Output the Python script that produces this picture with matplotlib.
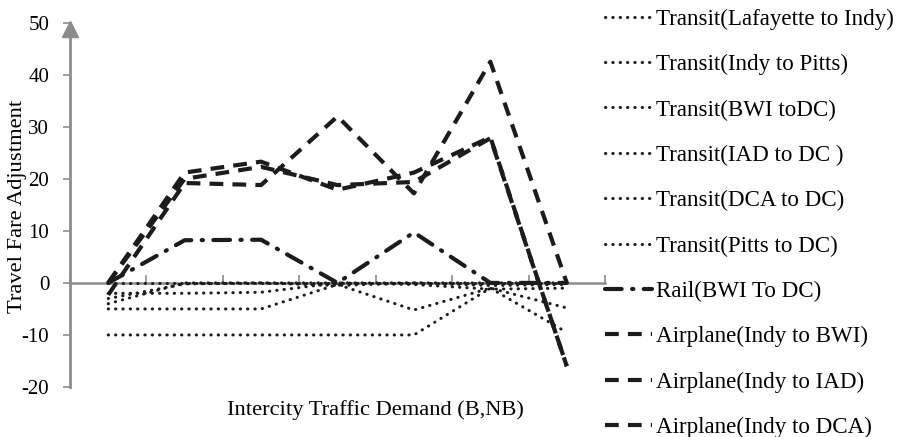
import numpy as np
import matplotlib.pyplot as plt
from matplotlib import transforms

plt.rcParams['font.family'] = ['Liberation Serif', 'DejaVu Serif']
plt.rcParams['axes.unicode_minus'] = False

# Demand scenarios along the x axis (7 cases, no tick labels)
scenarios = np.arange(7)

labels = [
    "Transit(Lafayette to Indy)",
    "Transit(Indy to Pitts)",
    "Transit(BWI toDC)",
    "Transit(IAD to DC )",
    "Transit(DCA to DC)",
    "Transit(Pitts to DC)",
    "Rail(BWI To DC)",
    "Airplane(Indy to BWI)",
    "Airplane(Indy to IAD)",
    "Airplane(Indy to DCA)",
]

transit_laf_indy = [-10, -10, -10, -10, -10, -1, -9.5]
transit_indy_pitts = [-5, -5, -5, -0.3, -5.2, -1, -4.8]
transit_bwi_dc = [-2, -2, -1.8, 0, -0.3, -1.2, -1]
transit_iad_dc = [-4, 0, 0, 0, 0, 0, 0]
transit_dca_dc = [0, 0, 0, 0, 0, 0, 0]
transit_pitts_dc = [-3, -0.2, 0, -0.5, 0, -0.5, -0.3]
rail_bwi_dc = [0, 8.2, 8.3, 0, 9.7, 0, 0]
air_indy_bwi = [0, 21.2, 23.3, 17.9, 21.2, 28, -16]
air_indy_iad = [0, 20.0, 22.3, 18.8, 19.4, 27.8, -16]
air_indy_dca = [-2.3, 19.2, 18.8, 32, 17.2, 42.5, 0]

series = [transit_laf_indy, transit_indy_pitts, transit_bwi_dc, transit_iad_dc,
          transit_dca_dc, transit_pitts_dc, rail_bwi_dc,
          air_indy_bwi, air_indy_iad, air_indy_dca]

ink = '#1c1c1c'
grey = '#8c8c8c'

fig = plt.figure(figsize=(9.05, 4.37), dpi=100)
ax = fig.add_axes([70 / 905, 1 - 387 / 437, 535 / 905, (387 - 22.7) / 437])

handles = []
for i, (vals, lab) in enumerate(zip(series, labels)):
    if i < 6:
        ln, = ax.plot(scenarios, vals, color=ink, lw=2.2, linestyle=(0, (0.1, 2.3)),
                      dash_capstyle='round', label=lab, zorder=3)
    elif i == 6:
        ln, = ax.plot(scenarios, vals, color=ink, lw=3, linestyle=(0, (4, 2.5, 0.3, 2.5)),
                      dash_capstyle='round', label=lab, zorder=4)
    else:
        ln, = ax.plot(scenarios, vals, color=ink, lw=3, linestyle=(0, (3.3, 2.2)),
                      label=lab, zorder=5)
    handles.append(ln)

ax.set_xlim(-0.5, 6.5)
ax.set_ylim(-20, 50)
ax.set_yticks(np.arange(-20, 51, 10))
ax.set_xticks(np.arange(-0.5, 6.6, 1))
ax.set_xticklabels([])

for side in ['top', 'right']:
    ax.spines[side].set_visible(False)
ax.spines['bottom'].set_position(('data', 0))
ax.spines['bottom'].set_color(grey)
ax.spines['bottom'].set_linewidth(1.8)
ax.spines['left'].set_color(grey)
ax.spines['left'].set_linewidth(2)
ax.tick_params(axis='y', direction='out', length=5, width=1.2, color=grey,
               labelsize=15, pad=10)
ax.tick_params(axis='x', direction='in', length=6, width=1.2, color=grey)

# arrow head on top of the y axis
arrow_tr = transforms.offset_copy(ax.transAxes, fig=fig, x=0, y=-6, units='dots')
ax.plot(0, 1, marker='^', markersize=11, color=grey, transform=arrow_tr,
        clip_on=False, zorder=6)

fig.text(18 / 905, 1 - 206 / 437, "Travel Fare Adjustment", fontsize=16.2,
         rotation=90, ha='center', va='center')
fig.text(375 / 905, 1 - 410 / 437, "Intercity Traffic Demand (B,NB)",
         fontsize=16.2, ha='center', va='center')

fig.legend(handles=handles, loc='upper left', bbox_to_anchor=(591 / 905, 1.012),
           frameon=False, fontsize=16.6, handlelength=2.05, handletextpad=0.15,
           labelspacing=1.05, borderaxespad=0.2)

fig.savefig('out.png', dpi=100)
